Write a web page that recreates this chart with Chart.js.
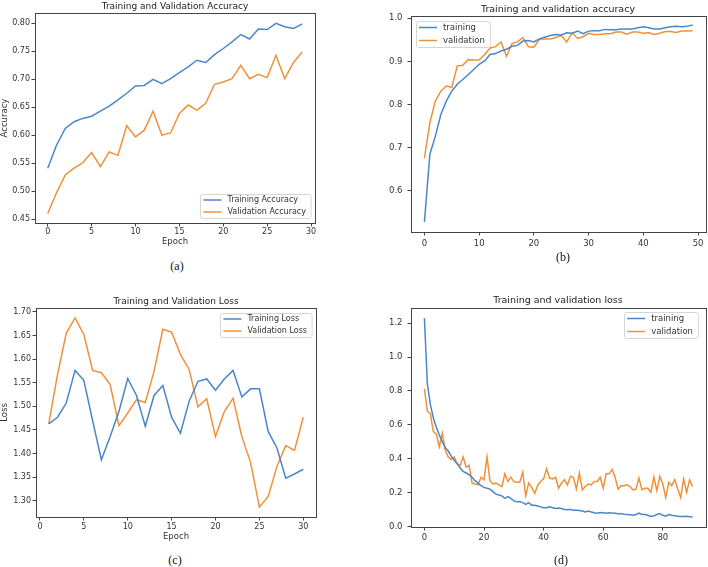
<!DOCTYPE html>
<html>
<head>
<meta charset="utf-8">
<script src="https://cdn.jsdelivr.net/npm/chart.js@4.4.0/dist/chart.umd.min.js"></script>
<style>
  body { margin: 0; background: #fff; }
  #fig { position: relative; width: 708px; height: 567px; overflow: hidden; }
  canvas { position: absolute; }
  .ttl { position: absolute; font-family: "DejaVu Sans", sans-serif; color: #222; white-space: nowrap; transform: translate(-50%, -50%); }
  .cap { position: absolute; font-family: "Liberation Serif", "DejaVu Serif", serif; font-size: 12px; font-weight: normal; color: #111; transform: translate(-50%, -50%); }
</style>
</head>
<body>
<div id="fig">
  <canvas id="chartA" width="354" height="250" style="left:0;top:0"></canvas>
  <canvas id="chartB" width="354" height="250" style="left:354px;top:0"></canvas>
  <canvas id="chartC" width="354" height="270" style="left:0;top:280px"></canvas>
  <canvas id="chartD" width="354" height="270" style="left:354px;top:280px"></canvas>

  <div class="ttl" style="left:175px;top:6px;font-size:9px">Training and Validation Accuracy</div>
  <div class="ttl" style="left:558px;top:8px;font-size:9.5px">Training and validation accuracy</div>
  <div class="ttl" style="left:176px;top:301px;font-size:9px">Training and Validation Loss</div>
  <div class="ttl" style="left:558px;top:299px;font-size:9.5px">Training and validation loss</div>

  <div class="cap" style="left:177px;top:266px">(a)</div>
  <div class="cap" style="left:563px;top:257px">(b)</div>
  <div class="cap" style="left:175px;top:560px">(c)</div>
  <div class="cap" style="left:561px;top:560px">(d)</div>
</div>

<script>
// (a) accuracy, 30 epochs
const accTrainA = [0.541, 0.582, 0.612, 0.624, 0.630, 0.634, 0.643, 0.652, 0.663, 0.675,
  0.688, 0.689, 0.700, 0.692, 0.701, 0.712, 0.722, 0.734, 0.730, 0.744,
  0.755, 0.767, 0.780, 0.772, 0.790, 0.789, 0.800, 0.794, 0.791, 0.799];
const accValA = [0.460, 0.497, 0.529, 0.541, 0.551, 0.569, 0.544, 0.570, 0.564, 0.617,
  0.597, 0.609, 0.643, 0.600, 0.604, 0.639, 0.654, 0.645, 0.657, 0.691,
  0.695, 0.701, 0.725, 0.701, 0.709, 0.703, 0.743, 0.701, 0.730, 0.749];
const xTicksA = [0, 5, 10, 15, 20, 25, 30];
const yTicksA = [0.45, 0.50, 0.55, 0.60, 0.65, 0.70, 0.75, 0.80];

// (b) accuracy, 50 epochs
const accTrainB = [0.528, 0.685, 0.727, 0.777, 0.808, 0.831, 0.847, 0.858, 0.869, 0.881,
  0.893, 0.901, 0.916, 0.918, 0.924, 0.928, 0.935, 0.937, 0.947, 0.948,
  0.945, 0.952, 0.956, 0.960, 0.962, 0.961, 0.966, 0.965, 0.970, 0.964,
  0.970, 0.971, 0.971, 0.974, 0.973, 0.973, 0.975, 0.975, 0.975, 0.978,
  0.980, 0.978, 0.975, 0.975, 0.978, 0.980, 0.981, 0.980, 0.981, 0.984];
const accValB = [0.676, 0.758, 0.808, 0.831, 0.843, 0.840, 0.889, 0.891, 0.904, 0.903,
  0.903, 0.916, 0.931, 0.934, 0.945, 0.912, 0.941, 0.945, 0.955, 0.934,
  0.933, 0.951, 0.952, 0.952, 0.955, 0.960, 0.945, 0.966, 0.953, 0.957,
  0.965, 0.962, 0.962, 0.964, 0.964, 0.968, 0.968, 0.963, 0.968, 0.968,
  0.965, 0.966, 0.962, 0.965, 0.969, 0.969, 0.967, 0.970, 0.970, 0.971];
const xTicksB = [0, 10, 20, 30, 40, 50];
const yTicksB = [0.6, 0.7, 0.8, 0.9, 1.0];

// (c) loss, epochs 1..30
const lossTrainC = [1.463, 1.477, 1.507, 1.576, 1.555, 1.470, 1.387, 1.436, 1.489, 1.559,
  1.523, 1.458, 1.523, 1.544, 1.477, 1.443, 1.511, 1.553, 1.558, 1.534,
  1.558, 1.576, 1.520, 1.537, 1.537, 1.447, 1.412, 1.348, 1.357, 1.367];
const lossValC = [1.463, 1.567, 1.655, 1.687, 1.652, 1.576, 1.571, 1.546, 1.459, 1.486,
  1.514, 1.508, 1.574, 1.663, 1.657, 1.610, 1.578, 1.499, 1.516, 1.436,
  1.489, 1.517, 1.436, 1.381, 1.287, 1.309, 1.373, 1.417, 1.407, 1.477];
const xTicksC = [0, 5, 10, 15, 20, 25, 30];
const yTicksC = [1.30, 1.35, 1.40, 1.45, 1.50, 1.55, 1.60, 1.65, 1.70];

// (d) loss, 91 epochs
const lossTrainD = [1.23, 0.84, 0.72, 0.64, 0.585, 0.54, 0.50, 0.465, 0.445, 0.415,
  0.39, 0.37, 0.345, 0.325, 0.315, 0.305, 0.29, 0.27, 0.255, 0.24,
  0.23, 0.225, 0.22, 0.205, 0.19, 0.185, 0.18, 0.165, 0.175, 0.165,
  0.15, 0.145, 0.145, 0.14, 0.13, 0.14, 0.125, 0.125, 0.12, 0.115,
  0.11, 0.11, 0.115, 0.11, 0.105, 0.108, 0.105, 0.10, 0.098, 0.10,
  0.095, 0.095, 0.093, 0.09, 0.085, 0.09, 0.085, 0.08, 0.078, 0.082,
  0.08, 0.078, 0.08, 0.078, 0.077, 0.075, 0.075, 0.072, 0.07, 0.068,
  0.065, 0.07, 0.078, 0.07, 0.07, 0.065, 0.058, 0.062, 0.07, 0.075,
  0.065, 0.06, 0.07, 0.065, 0.062, 0.06, 0.058, 0.058, 0.06, 0.057, 0.055];
const lossValD = [0.814, 0.68, 0.665, 0.56, 0.545, 0.47, 0.55, 0.45, 0.41, 0.395,
  0.41, 0.37, 0.36, 0.41, 0.35, 0.36, 0.255, 0.25, 0.245, 0.29,
  0.275, 0.41, 0.27, 0.25, 0.255, 0.245, 0.235, 0.31, 0.265, 0.29,
  0.265, 0.26, 0.26, 0.32, 0.18, 0.255, 0.23, 0.195, 0.24, 0.265,
  0.28, 0.34, 0.285, 0.28, 0.29, 0.225, 0.255, 0.275, 0.245, 0.295,
  0.29, 0.22, 0.315, 0.215, 0.235, 0.25, 0.245, 0.265, 0.265, 0.29,
  0.225, 0.31, 0.31, 0.335, 0.29, 0.22, 0.24, 0.24, 0.245, 0.235,
  0.215, 0.22, 0.285, 0.215, 0.225, 0.225, 0.2, 0.29, 0.21, 0.295,
  0.25, 0.17, 0.26, 0.24, 0.275, 0.22, 0.17, 0.28, 0.2, 0.275, 0.235];
const xTicksD = [0, 20, 40, 60, 80];
const yTicksD = [0.0, 0.2, 0.4, 0.6, 0.8, 1.0, 1.2];

const BLUE = '#4a86c8';
const ORANGE = '#f0913a';
const FRAME = '#444';
const FONT = 'DejaVu Sans';

// full box around the plot area, like matplotlib spines
const frame = {
  id: 'frame',
  afterDraw(chart) {
    const { ctx, chartArea: a } = chart;
    ctx.save();
    ctx.strokeStyle = FRAME;
    ctx.lineWidth = 1;
    ctx.strokeRect(Math.round(a.left) + 0.5, Math.round(a.top) + 0.5,
      Math.round(a.right - a.left), Math.round(a.bottom - a.top));
    ctx.restore();
  }
};

// legend drawn inside the plot area
const boxLegend = {
  id: 'boxLegend',
  afterDraw(chart, args, opts) {
    const { ctx, chartArea: a } = chart;
    const sets = chart.data.datasets;
    ctx.save();
    ctx.font = opts.size + 'px "' + FONT + '"';
    const textW = Math.max(...sets.map(d => ctx.measureText(d.label).width));
    const w = 3 + 18 + 6 + textW + 5;
    const h = opts.row * sets.length;
    const x = opts.corner.includes('right') ? a.right - w - opts.insetX : a.left + opts.insetX;
    const y = opts.corner.includes('lower') ? a.bottom - h - opts.insetY : a.top + opts.insetY;
    ctx.fillStyle = 'rgba(255,255,255,0.85)';
    ctx.strokeStyle = '#d6d6d6';
    ctx.lineWidth = 1;
    ctx.beginPath();
    ctx.roundRect(Math.round(x) + 0.5, Math.round(y) + 0.5, w, h, 2);
    ctx.fill();
    ctx.stroke();
    sets.forEach((d, i) => {
      const cy = y + opts.row * (i + 0.5);
      ctx.strokeStyle = d.borderColor;
      ctx.lineWidth = 1.5;
      ctx.beginPath();
      ctx.moveTo(x + 3, cy);
      ctx.lineTo(x + 21, cy);
      ctx.stroke();
      ctx.fillStyle = '#333';
      ctx.textBaseline = 'middle';
      ctx.fillText(d.label, x + 27, cy);
    });
    ctx.restore();
  }
};

function makeChart(id, c) {
  const tickFont = { family: FONT, size: c.fontSize };
  return new Chart(document.getElementById(id), {
    type: 'line',
    data: {
      datasets: [
        { label: c.names[0], data: c.epochs.map((x, i) => ({ x, y: c.train[i] })),
          borderColor: BLUE, borderWidth: 1.5, pointRadius: 0, fill: false, tension: 0 },
        { label: c.names[1], data: c.epochs.map((x, i) => ({ x, y: c.val[i] })),
          borderColor: ORANGE, borderWidth: 1.5, pointRadius: 0, fill: false, tension: 0 }
      ]
    },
    options: {
      responsive: false,
      animation: false,
      layout: { padding: { left: 0, top: c.top, right: c.right, bottom: 0 } },
      plugins: {
        legend: { display: false },
        tooltip: { enabled: false },
        boxLegend: c.legend
      },
      scales: {
        x: {
          type: 'linear', bounds: 'data', min: c.xRange[0], max: c.xRange[1],
          afterBuildTicks: s => { s.ticks = c.xTicks.map(value => ({ value })); },
          afterFit: s => { s.height = c.xHeight; },
          grid: { drawOnChartArea: false, drawTicks: true, tickLength: 3.5, tickColor: FRAME, color: FRAME },
          border: { display: false },
          ticks: { autoSkip: false, maxRotation: 0, padding: c.xPad, color: '#333', font: tickFont,
            callback: v => String(v) },
          title: { display: !!c.xTitle, text: c.xTitle || '', color: '#333', font: { family: FONT, size: 8.5 },
            padding: { top: 0, bottom: c.xTitlePad || 0 } }
        },
        y: {
          type: 'linear', bounds: 'data', min: c.yRange[0], max: c.yRange[1],
          afterBuildTicks: s => { s.ticks = c.yTicks.map(value => ({ value })); },
          afterFit: s => { s.width = c.left; },
          grid: { drawOnChartArea: false, drawTicks: true, tickLength: 3.5, tickColor: FRAME, color: FRAME },
          border: { display: false },
          ticks: { autoSkip: false, padding: c.yPad, color: '#333', font: tickFont,
            callback: v => v.toFixed(c.decimals) },
          title: { display: !!c.yTitle, text: c.yTitle || '', color: '#333', font: { family: FONT, size: 8.5 },
            padding: { top: 0, bottom: 0 } }
        }
      }
    },
    plugins: [frame, boxLegend]
  });
}

makeChart('chartA', {
  names: ['Training Accuracy', 'Validation Accuracy'],
  epochs: accTrainA.map((_, i) => i), train: accTrainA, val: accValA,
  xRange: [-1.45, 30.45], yRange: [0.443, 0.8185], xTicks: xTicksA, yTicks: yTicksA, decimals: 2,
  left: 35, top: 13, right: 39, xHeight: 27, xPad: 1, yPad: 1.5, fontSize: 8,
  xTitle: 'Epoch', xTitlePad: 3, yTitle: 'Accuracy',
  legend: { corner: 'lower right', insetX: 4, insetY: 5, row: 12, size: 8 }
});

makeChart('chartB', {
  names: ['training', 'validation'],
  epochs: accTrainB.map((_, i) => i), train: accTrainB, val: accValB,
  xRange: [-2.45, 51.45], yRange: [0.505, 1.005], xTicks: xTicksB, yTicks: yTicksB, decimals: 1,
  left: 57, top: 16, right: 2, xHeight: 18, xPad: 3, yPad: 5, fontSize: 8.5,
  legend: { corner: 'upper left', insetX: 5, insetY: 5, row: 13, size: 8.5 }
});

makeChart('chartC', {
  names: ['Training Loss', 'Validation Loss'],
  epochs: lossTrainC.map((_, i) => i + 1), train: lossTrainC, val: lossValC,
  xRange: [-0.45, 31.45], yRange: [1.266, 1.708], xTicks: xTicksC, yTicks: yTicksC, decimals: 2,
  left: 36, top: 28, right: 38, xHeight: 33, xPad: 2, yPad: 1.5, fontSize: 8,
  xTitle: 'Epoch', xTitlePad: 8, yTitle: 'Loss',
  legend: { corner: 'upper right', insetX: 4, insetY: 5, row: 12, size: 8 }
});

makeChart('chartD', {
  names: ['training', 'validation'],
  epochs: lossTrainD.map((_, i) => i), train: lossTrainD, val: lossValD,
  xRange: [-4.5, 94.5], yRange: [-0.004, 1.29], xTicks: xTicksD, yTicks: yTicksD, decimals: 1,
  left: 57, top: 28, right: 2, xHeight: 23, xPad: 2, yPad: 5, fontSize: 8.5,
  legend: { corner: 'upper right', insetX: 8, insetY: 4, row: 13, size: 8.5 }
});
</script>
</body>
</html>
